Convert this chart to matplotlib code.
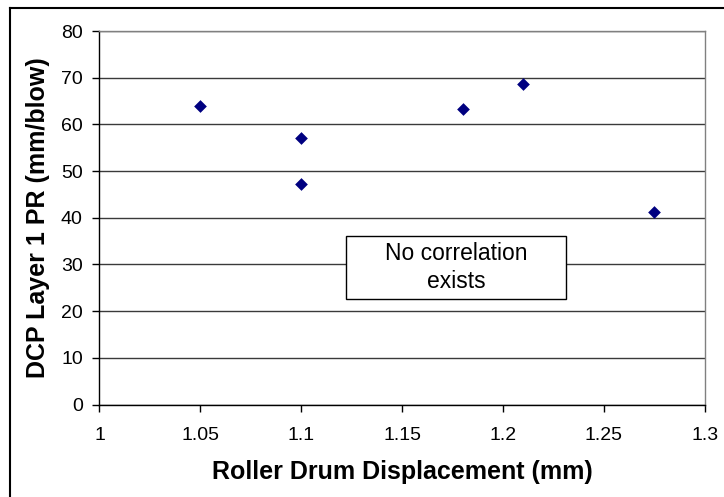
import matplotlib.pyplot as plt
from matplotlib.lines import Line2D
from matplotlib.patches import Rectangle

# roller drum displacement (mm) vs DCP layer 1 penetration rate
displacement = [1.05, 1.10, 1.10, 1.18, 1.21, 1.275]
dcp_pr = [64.0, 57.1, 47.2, 63.4, 68.6, 41.3]

x_ticks = [1, 1.05, 1.1, 1.15, 1.2, 1.25, 1.3]
x_tick_labels = ["1", "1.05", "1.1", "1.15", "1.2", "1.25", "1.3"]
y_ticks = [0, 10, 20, 30, 40, 50, 60, 70, 80]

plt.rcParams['font.family'] = ['Liberation Sans', 'DejaVu Sans']

fig = plt.figure(figsize=(7.24, 4.97), dpi=100)
ax = fig.add_axes([0.1374, 0.186, 0.836, 0.7516])

ax.scatter(displacement, dcp_pr, marker='D', s=42, color='#000080', zorder=3, linewidths=0)

ax.set_xlim(1, 1.3)
ax.set_ylim(0, 80)
ax.set_xticks(x_ticks)
ax.set_xticklabels(x_tick_labels)
ax.set_yticks(y_ticks)
ax.tick_params(axis='both', labelsize=14, length=5, width=1, color='black')
ax.tick_params(axis='x', pad=11)
ax.tick_params(axis='y', pad=7)
ax.yaxis.grid(True, color='#3a3a3a', linewidth=1)
ax.set_axisbelow(True)

for side in ['top', 'right']:
    ax.spines[side].set_color('#808080')
for side in ['left', 'bottom']:
    ax.spines[side].set_color('black')
for sp in ax.spines.values():
    sp.set_linewidth(1)

ax.set_xlabel("Roller Drum Displacement (mm)", fontsize=18, fontweight='bold', labelpad=12)
ax.set_ylabel("DCP Layer 1 PR (mm/blow)", fontsize=18, fontweight='bold', labelpad=8)

# annotation box
ax.add_patch(Rectangle((0.4077, 0.282), 0.3634, 0.169, transform=ax.transAxes,
                       facecolor='white', edgecolor='black', linewidth=1, zorder=4))
ax.text(0.5894, 0.3665, "No correlation\nexists", transform=ax.transAxes,
        ha='center', va='center', fontsize=16.5, zorder=5, linespacing=1.3)

# outer chart border (top and left visible)
fig.add_artist(Line2D([9.5 / 724, 9.5 / 724], [0, 1 - 7.5 / 497], color='black', lw=1.5))
fig.add_artist(Line2D([9.5 / 724, 1], [1 - 7.5 / 497, 1 - 7.5 / 497], color='black', lw=1.5))

fig.savefig("out.png", dpi=100)
